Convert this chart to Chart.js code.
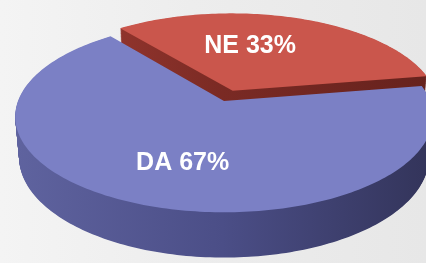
<!DOCTYPE html>
<html>
<head>
<meta charset="utf-8">
<script src="https://cdn.jsdelivr.net/npm/chart.js@4.4.1/dist/chart.umd.min.js"></script>
<style>
  html, body { margin: 0; padding: 0; }
  body {
    width: 426px;
    height: 263px;
    overflow: hidden;
    background: linear-gradient(90deg, #f4f4f4 0%, #ededed 45%, #e7e7e7 100%);
  }
  #wrap { position: relative; width: 426px; height: 263px; }
</style>
</head>
<body>
<div id="wrap"><canvas id="pie"></canvas></div>
<script>
const categories = ["DA", "NE"];
const percents = [67, 33];

const topColors = ["#7b80c5", "#ca564c"];
const sideColors = [
  ["#5f639f", "#4b4e87", "#33345a"],
  ["#a53d34", "#7a2a24", "#66221d"],
];
const explode = [0, 48];

// fake camera for the tilted 3D look (screen centre, scale, tilt, perspective, thickness)
const view = { cx: 224, cy: 101, s: 206, a: 0.452, c: 0.892, k: 0.183, h: 0.222 };

// label placement inside each slice
const labelShift = [-4, -11];
const labelFrac = [0.62, 0.56];

function project(u, d, hgt) {
  const w = 1 - view.k * (d * view.c + hgt * view.a);
  return [view.cx + (view.s * u) / w, view.cy + (view.s * (d * view.a - hgt * view.c)) / w];
}

function sliceOutline(arc) {
  const p = arc.getProps(["startAngle", "endAngle", "outerRadius"], true);
  const off = (arc.options.offset || 0) / 4 / p.outerRadius;
  const mid = (p.startAngle + p.endAngle) / 2;
  const ox = Math.cos(mid) * off;
  const oy = Math.sin(mid) * off;
  const pts = [[ox, oy]];
  const n = Math.max(2, Math.ceil((p.endAngle - p.startAngle) / 0.02));
  for (let j = 0; j <= n; j++) {
    const t = p.startAngle + ((p.endAngle - p.startAngle) * j) / n;
    pts.push([ox + Math.cos(t), oy + Math.sin(t)]);
  }
  return { pts, mid, ox, oy };
}

const pie3d = {
  id: "pie3d",
  beforeDatasetsDraw(chart) {
    const ctx = chart.ctx;
    const arcs = chart.getDatasetMeta(0).data;
    const shapes = arcs.map((arc, i) => Object.assign(sliceOutline(arc), { i }));
    shapes.sort((A, B) => Math.sin(A.mid) - Math.sin(B.mid));

    const fillAt = (pts, hgt) => {
      ctx.beginPath();
      pts.forEach(([u, d], j) => {
        const [x, y] = project(u, d, hgt);
        if (j) ctx.lineTo(x, y);
        else ctx.moveTo(x, y);
      });
      ctx.closePath();
      ctx.fill();
    };

    ctx.save();
    shapes.forEach((sh) => {
      const g = ctx.createLinearGradient(15, 0, 430, 0);
      const stops = sideColors[sh.i];
      g.addColorStop(0, stops[0]);
      g.addColorStop(0.5, stops[1]);
      g.addColorStop(1, stops[2]);
      ctx.fillStyle = g;
      const layers = 60;
      for (let l = 0; l < layers; l++) {
        fillAt(sh.pts, -view.h + (view.h * l) / layers);
      }
      ctx.fillStyle = topColors[sh.i];
      fillAt(sh.pts, 0);
    });
    ctx.restore();
    return false;
  },
  afterDraw(chart) {
    const ctx = chart.ctx;
    const arcs = chart.getDatasetMeta(0).data;
    ctx.save();
    ctx.fillStyle = "#ffffff";
    ctx.font = "bold 25px 'Liberation Sans', Arial, sans-serif";
    ctx.textAlign = "center";
    ctx.textBaseline = "middle";
    arcs.forEach((arc, i) => {
      const sh = sliceOutline(arc);
      const ang = sh.mid + (labelShift[i] * Math.PI) / 180;
      const [x, y] = project(sh.ox + Math.cos(ang) * labelFrac[i], sh.oy + Math.sin(ang) * labelFrac[i], 0);
      ctx.fillText(categories[i] + " " + percents[i] + "%", x, y + 1);
    });
    ctx.restore();
  },
};

new Chart(document.getElementById("pie"), {
  type: "pie",
  data: {
    labels: categories,
    datasets: [
      {
        data: percents,
        backgroundColor: topColors,
        borderWidth: 0,
        offset: explode,
      },
    ],
  },
  options: {
    responsive: true,
    maintainAspectRatio: false,
    animation: false,
    rotation: 80.4,
    radius: 100,
    layout: { padding: 0 },
    events: [],
    plugins: {
      legend: { display: false },
      tooltip: { enabled: false },
      title: { display: false },
    },
  },
  plugins: [pie3d],
});
</script>
</body>
</html>
